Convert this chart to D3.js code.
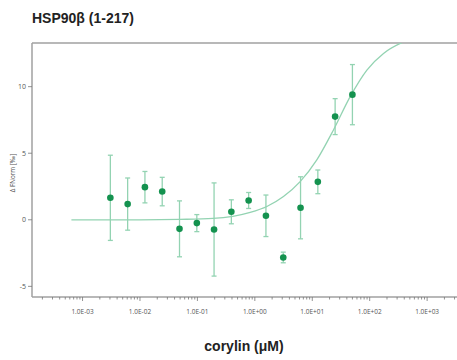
<!DOCTYPE html>
<meta charset="utf-8">
<title>HSP90b corylin MST</title>
<body style="margin:0;background:#fff">
<svg width=457 height=360></svg>
<script src="https://d3js.org/d3.v7.min.js"></script>
<script>
    // dose series (µM), measured response and error
    const conc = [0.00305, 0.0061, 0.0122, 0.0244, 0.0488, 0.0977, 0.195, 0.39, 0.78, 1.56, 3.125, 6.25, 12.5, 25, 50];
    const fnorm = [1.65, 1.18, 2.45, 2.12, -0.68, -0.25, -0.73, 0.6, 1.45, 0.3, -2.83, 0.9, 2.85, 7.75, 9.4];
    const err = [3.2, 1.96, 1.18, 1.07, 2.1, 0.64, 3.5, 0.9, 0.6, 1.56, 0.4, 2.33, 0.89, 1.35, 2.26];

    // fit line
    const fitConc = [0.00064, 0.01, 0.05, 0.187, 0.83, 1.62, 3.15, 6.15, 12, 23.4, 45.7, 89.3, 174, 340, 700];
    const fitVal = [0, 0, 0.03, 0.1, 0.55, 1.0, 1.75, 2.87, 4.5, 6.75, 9.25, 11.25, 12.5, 13.25, 13.7];

    const xTicks = [1e-3, 1e-2, 1e-1, 1e0, 1e1, 1e2, 1e3];
    const yTicks = [-5, 0, 5, 10];

    const svg = d3.select('svg');
    const pLeft = 32, pTop = 43, pRight = 457, pBottom = 297;

    const x = d3.scaleLog().domain([Math.pow(10, -3.88), Math.pow(10, 3.52)]).range([pLeft, pRight]);
    const y = d3.scaleLinear().domain([-5.8, 13.28]).range([pBottom, pTop]);

    const axisCol = '#a0a0a0';
    const lightGreen = '#93d3b2';
    const darkGreen = '#14924f';

    svg.append('clipPath').attr('id', 'clip')
        .append('rect').attr('x', pLeft).attr('y', pTop).attr('width', pRight - pLeft).attr('height', pBottom - pTop);

    // frame top line
    svg.append('line').attr('x1', pLeft).attr('x2', pRight).attr('y1', pTop).attr('y2', pTop)
        .attr('stroke', axisCol).attr('stroke-width', 1.5);

    // x axis with minor ticks
    const minor = [];
    for (let e = -4; e <= 3; e++) for (let m = 1; m <= 9; m++) {
        const v = m * Math.pow(10, e);
        if (x(v) >= pLeft && x(v) <= pRight) minor.push(v);
    }
    const gx = svg.append('g').attr('transform', `translate(0,${pBottom})`);
    gx.append('line').attr('x1', pLeft).attr('x2', pRight).attr('stroke', axisCol).attr('stroke-width', 1.5);
    gx.selectAll('.mt').data(minor).join('line')
        .attr('x1', d => x(d)).attr('x2', d => x(d))
        .attr('y1', 0).attr('y2', d => xTicks.includes(d) ? 4 : 2.5)
        .attr('stroke', '#777').attr('stroke-width', 0.8);
    gx.selectAll('text').data(xTicks).join('text')
        .attr('x', d => x(d)).attr('y', 17)
        .attr('text-anchor', 'middle')
        .attr('font-family', 'Open Sans, sans-serif').attr('font-size', 6.5).attr('fill', '#555')
        .text(d => {
            const e = Math.round(Math.log10(d));
            return '1.0E' + (e < 0 ? '-' : '+') + String(Math.abs(e)).padStart(2, '0');
        });

    // y axis
    const gy = svg.append('g').attr('transform', `translate(${pLeft},0)`);
    gy.append('line').attr('y1', pTop).attr('y2', pBottom).attr('stroke', axisCol).attr('stroke-width', 1.5);
    gy.selectAll('.yt').data(yTicks).join('line')
        .attr('x1', -4).attr('x2', 0).attr('y1', d => y(d)).attr('y2', d => y(d))
        .attr('stroke', '#777').attr('stroke-width', 0.8);
    gy.selectAll('text').data(yTicks).join('text')
        .attr('x', -6).attr('y', d => y(d)).attr('dy', '0.35em')
        .attr('text-anchor', 'end')
        .attr('font-family', 'Open Sans, sans-serif').attr('font-size', 7).attr('fill', '#555')
        .text(d => d);

    svg.append('text')
        .attr('transform', `translate(15,${(pTop + pBottom) / 2 + 3}) rotate(-90)`)
        .attr('text-anchor', 'middle')
        .attr('font-family', 'Open Sans, sans-serif').attr('font-size', 6.3).attr('fill', '#555')
        .text('Δ FNorm [‰]');

    // fit curve
    const fit = fitConc.map((c, i) => [c, fitVal[i]]);
    svg.append('path').datum(fit)
        .attr('clip-path', 'url(#clip)')
        .attr('fill', 'none').attr('stroke', lightGreen).attr('stroke-width', 1.3)
        .attr('d', d3.line().x(d => x(d[0])).y(d => y(d[1])).curve(d3.curveMonotoneX));

    // error bars
    const pts = conc.map((c, i) => ({c, v: fnorm[i], e: err[i]}));
    const eb = svg.append('g').attr('stroke', lightGreen).attr('stroke-width', 1.3);
    eb.selectAll('.v').data(pts).join('line')
        .attr('x1', d => x(d.c)).attr('x2', d => x(d.c))
        .attr('y1', d => y(d.v - d.e)).attr('y2', d => y(d.v + d.e));
    eb.selectAll('.t').data(pts).join('line')
        .attr('x1', d => x(d.c) - 2.5).attr('x2', d => x(d.c) + 2.5)
        .attr('y1', d => y(d.v + d.e)).attr('y2', d => y(d.v + d.e));
    eb.selectAll('.b').data(pts).join('line')
        .attr('x1', d => x(d.c) - 2.5).attr('x2', d => x(d.c) + 2.5)
        .attr('y1', d => y(d.v - d.e)).attr('y2', d => y(d.v - d.e));

    svg.append('g').selectAll('circle').data(pts).join('circle')
        .attr('cx', d => x(d.c)).attr('cy', d => y(d.v)).attr('r', 3.3)
        .attr('fill', darkGreen);

    // titles
    svg.append('text').attr('x', 32).attr('y', 23)
        .attr('font-family', 'Liberation Sans, Arial, sans-serif').attr('font-weight', 'bold')
        .attr('font-size', 14).attr('fill', '#222')
        .text('HSP90β (1-217)');
    svg.append('text').attr('x', 244).attr('y', 351).attr('text-anchor', 'middle')
        .attr('font-family', 'Liberation Sans, Arial, sans-serif').attr('font-weight', 'bold')
        .attr('font-size', 14).attr('fill', '#222')
        .text('corylin (μM)');
</script>
